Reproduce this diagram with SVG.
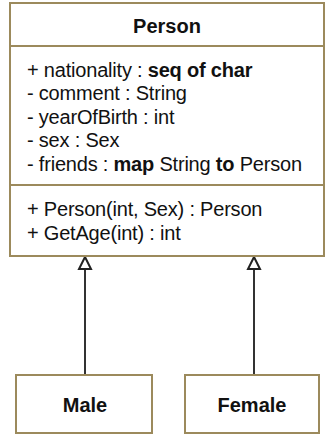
<svg xmlns="http://www.w3.org/2000/svg" width="326" height="435" viewBox="0 0 326 435">
  <style>
    .box { fill: #ffffff; stroke: #9c8a5c; stroke-width: 2; }
    .div { stroke: #9c8a5c; stroke-width: 2; }
    .edge { stroke: #333333; stroke-width: 2; fill: none; }
    .head { fill: #ffffff; stroke: #222222; stroke-width: 2; }
    .title { font-family: "Liberation Sans", Arial, sans-serif; font-size: 20px; font-weight: bold; fill: #111111; text-anchor: middle; }
    .member { font-family: "Liberation Sans", Arial, sans-serif; font-size: 20px; fill: #111111; letter-spacing: -0.2px; }
    .kw { font-weight: bold; }
  </style>

  <rect width="326" height="435" fill="#ffffff"/>

  <!-- generalization connectors -->
  <g id="connectors">
    <path class="edge" d="M85,375 L85,269"/>
    <polygon class="head" points="85,257 91,269 79,269"/>
    <path class="edge" d="M254,375 L254,269"/>
    <polygon class="head" points="254,257 260,269 248,269"/>
  </g>

  <!-- Person class -->
  <g id="person">
    <rect class="box" x="10" y="3" width="314" height="253"/>
    <line class="div" x1="10" y1="46" x2="324" y2="46"/>
    <line class="div" x1="10" y1="185" x2="324" y2="185"/>
    <text class="title" x="167" y="33">Person</text>
    <text class="member" x="27" y="77">+ nationality : <tspan class="kw">seq of char</tspan></text>
    <text class="member" x="27" y="100">- comment : String</text>
    <text class="member" x="27" y="124">- yearOfBirth : int</text>
    <text class="member" x="27" y="147">- sex : Sex</text>
    <text class="member" x="27" y="171">- friends : <tspan class="kw">map</tspan> String <tspan class="kw">to</tspan> Person</text>
    <text class="member" x="27" y="216">+ Person(int, Sex) : Person</text>
    <text class="member" x="27" y="240">+ GetAge(int) : int</text>
  </g>

  <!-- Male class -->
  <g id="male">
    <rect class="box" x="16" y="375" width="136" height="58"/>
    <text class="title" x="85" y="412">Male</text>
  </g>

  <!-- Female class -->
  <g id="female">
    <rect class="box" x="185" y="375" width="134" height="58"/>
    <text class="title" x="252" y="412">Female</text>
  </g>
</svg>
